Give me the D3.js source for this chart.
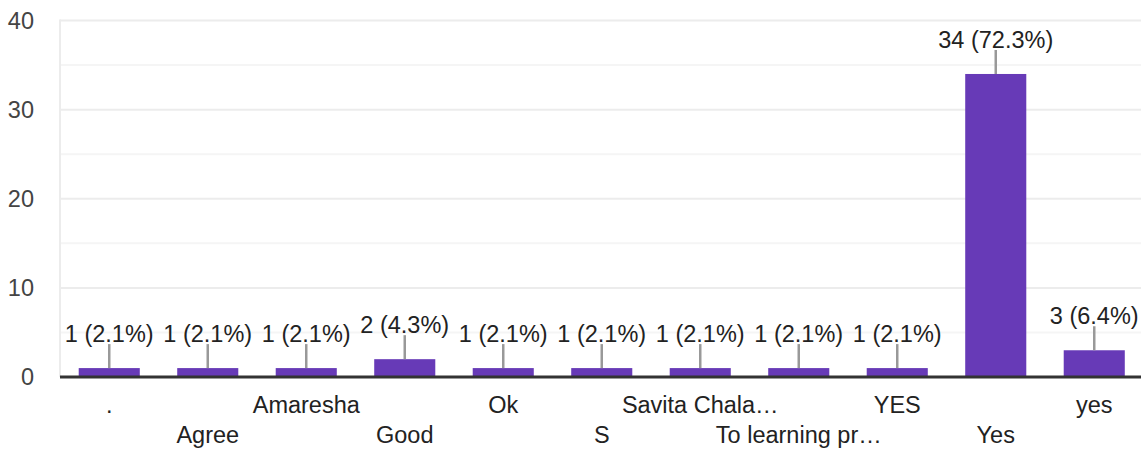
<!DOCTYPE html>
<html>
<head>
<meta charset="utf-8">
<script src="https://cdn.jsdelivr.net/npm/d3@7"></script>
<style>
  body { margin: 0; background: #fff; }
  svg text { font-family: Arial, "Liberation Sans", sans-serif; }
</style>
</head>
<body>
<div class="chart"></div>
<script>
// Data.
const categories = ['.', 'Agree', 'Amaresha', 'Good', 'Ok', 'S', 'Savita Chala…', 'To learning pr…', 'YES', 'Yes', 'yes'];
const counts = [1, 1, 1, 2, 1, 1, 1, 1, 1, 34, 3];
const yTicks = [0, 10, 20, 30, 40];
const yMinorTicks = [5, 15, 25, 35];

const total = d3.sum(counts);
const data = categories.map((c, i) => ({
  category: c,
  count: counts[i],
  label: `${counts[i]} (${d3.format('.1f')(counts[i] / total * 100)}%)`
}));

// Dimensions.
const width = 1141;
const height = 450;
const plot = {left: 60, right: 1141, top: 20.5, bottom: 377};

// Scales.
const xScale = d3.scaleBand()
  .domain(categories)
  .range([plot.left, 1143.5])
  .paddingInner(0.38)
  .paddingOuter(0.19);

const yScale = d3.scaleLinear()
  .domain([0, 40])
  .range([plot.bottom, plot.top]);

// Base.
const svg = d3.select('.chart')
  .append('svg')
  .attr('width', width)
  .attr('height', height);

// Gridlines.
svg.append('g')
  .selectAll('line')
  .data(yMinorTicks)
  .join('line')
  .attr('x1', plot.left)
  .attr('x2', plot.right)
  .attr('y1', d => yScale(d))
  .attr('y2', d => yScale(d))
  .style('stroke', '#f5f5f5')
  .style('stroke-width', 2);

svg.append('g')
  .selectAll('line')
  .data(yTicks.filter(d => d > 0))
  .join('line')
  .attr('x1', plot.left)
  .attr('x2', plot.right)
  .attr('y1', d => yScale(d))
  .attr('y2', d => yScale(d))
  .style('stroke', '#ececec')
  .style('stroke-width', 2);

svg.append('line')
  .attr('x1', plot.left)
  .attr('x2', plot.left)
  .attr('y1', yScale(40) - 1)
  .attr('y2', plot.bottom)
  .style('stroke', '#ececec')
  .style('stroke-width', 2);

// Y axis labels.
const yAxis = d3.axisLeft(yScale)
  .tickValues(yTicks)
  .tickSize(0)
  .tickPadding(26);

const yAxisDraw = svg.append('g')
  .attr('transform', `translate(${plot.left}, 0)`)
  .call(yAxis);

yAxisDraw.select('.domain').remove();
yAxisDraw.selectAll('text')
  .style('font-size', '23.5px')
  .style('font-family', 'Arial, "Liberation Sans", sans-serif')
  .style('fill', '#444');

// Bars.
svg.append('g')
  .selectAll('rect')
  .data(data)
  .join('rect')
  .attr('x', d => xScale(d.category))
  .attr('y', d => yScale(d.count))
  .attr('width', xScale.bandwidth())
  .attr('height', d => plot.bottom - yScale(d.count))
  .style('fill', '#673ab7');

// Value labels with leader lines.
const labels = svg.append('g')
  .selectAll('g')
  .data(data)
  .join('g')
  .attr('transform', d => `translate(${xScale(d.category) + xScale.bandwidth() / 2}, ${yScale(d.count)})`);

labels.append('line')
  .attr('y1', -24)
  .attr('y2', 0)
  .style('stroke', '#999')
  .style('stroke-width', 2.5);

labels.append('text')
  .attr('y', -26)
  .attr('text-anchor', 'middle')
  .style('font-size', '23.5px')
  .style('fill', '#222')
  .text(d => d.label);

// X axis.
const xAxis = d3.axisBottom(xScale)
  .tickSize(0)
  .tickSizeOuter(0);

const xAxisDraw = svg.append('g')
  .attr('transform', `translate(0, ${plot.bottom})`)
  .call(xAxis);

xAxisDraw.select('.domain')
  .attr('d', `M${plot.left},0H${plot.right}`)
  .style('stroke', '#333')
  .style('stroke-width', 3);

xAxisDraw.selectAll('text')
  .attr('y', (d, i) => i % 2 === 0 ? 36 : 66)
  .attr('dy', 0)
  .style('font-size', '23.5px')
  .style('font-family', 'Arial, "Liberation Sans", sans-serif')
  .style('fill', '#222');
</script>
</body>
</html>
